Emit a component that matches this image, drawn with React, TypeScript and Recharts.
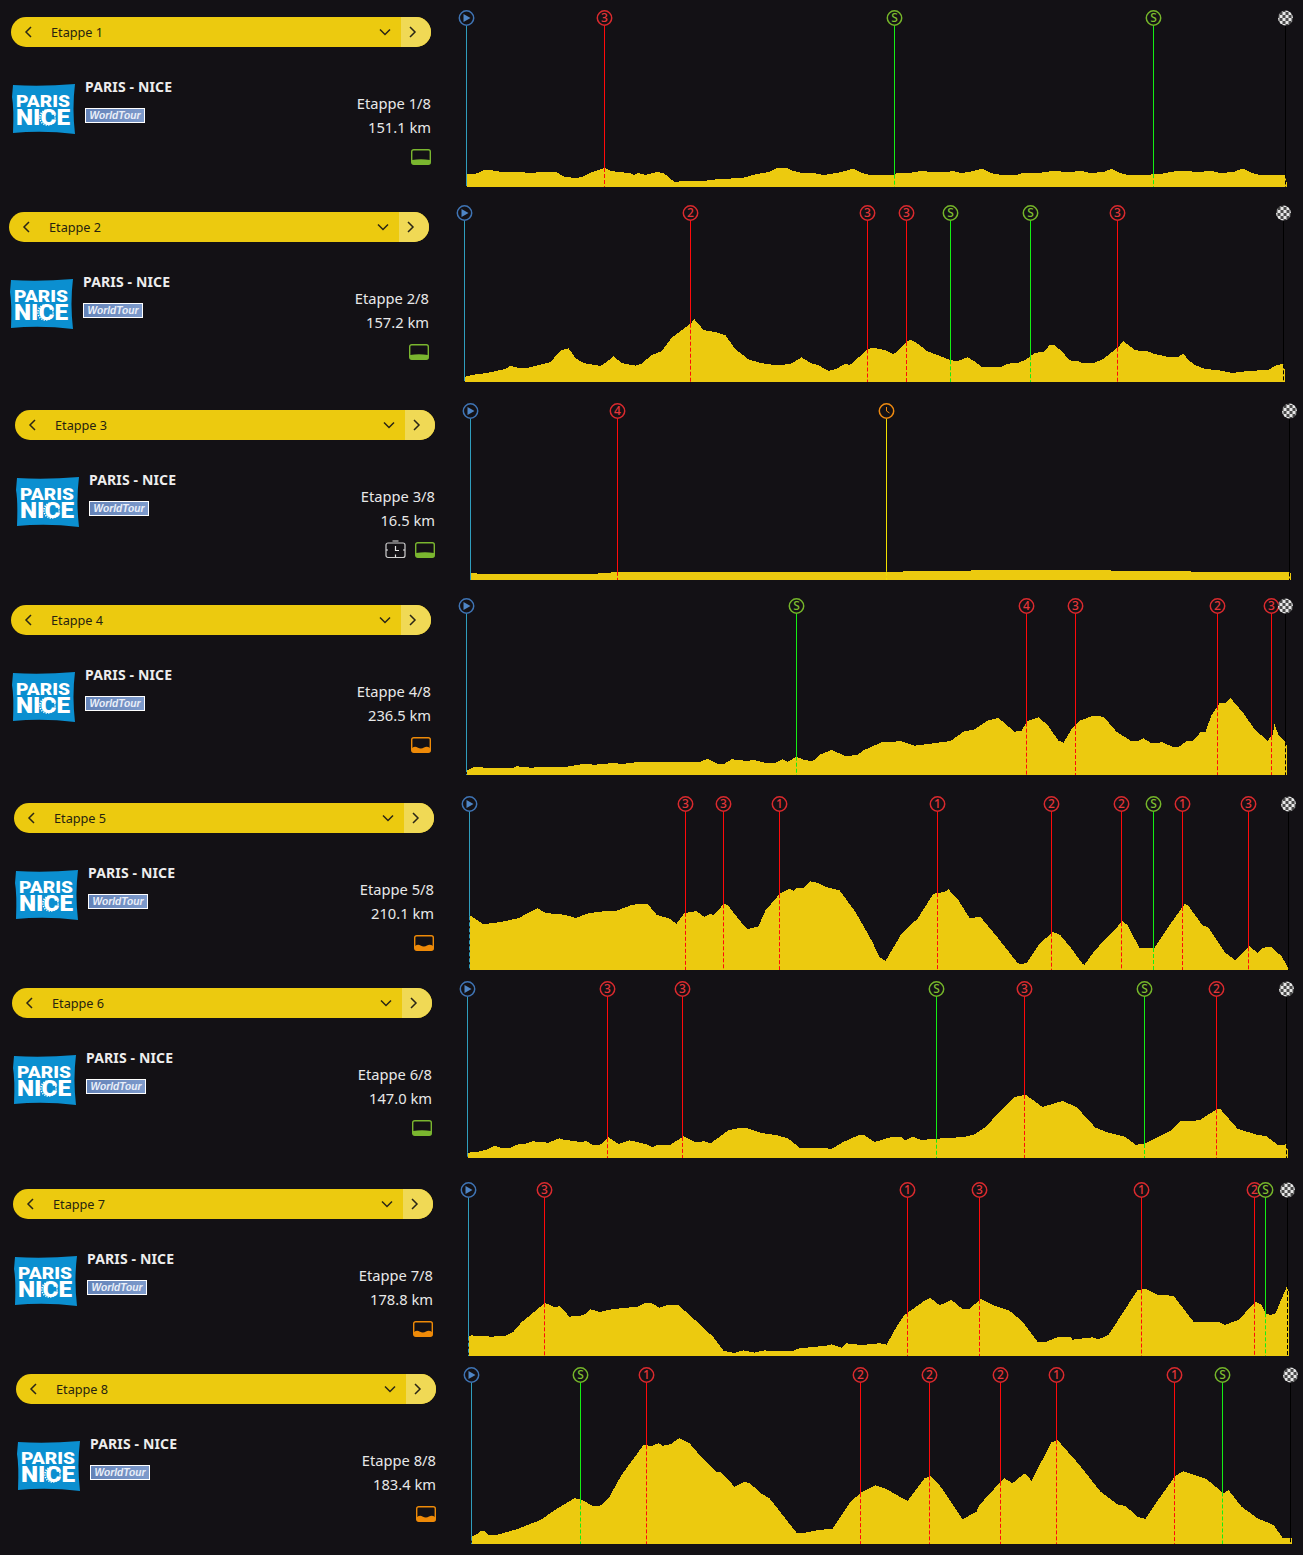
import React from 'react';
import { ComposedChart, Area, XAxis, YAxis, ReferenceLine, ReferenceDot } from 'recharts';

const stageNames = ['Etappe 1','Etappe 2','Etappe 3','Etappe 4','Etappe 5','Etappe 6','Etappe 7','Etappe 8'];
const stageCounts = ['Etappe 1/8','Etappe 2/8','Etappe 3/8','Etappe 4/8','Etappe 5/8','Etappe 6/8','Etappe 7/8','Etappe 8/8'];
const stageDistances = ['151.1 km','157.2 km','16.5 km','236.5 km','210.1 km','147.0 km','178.8 km','183.4 km'];
const stageTerrain = ['flat','flat','flat','hilly','hilly','flat','hilly','hilly'];

const profile1 = [[0,5],[1,13],[10,13.5],[18,17],[26,16.5],[39,14.5],[50,15],[66,14],[72,15],[90,15],[98,10],[110,9],[115,10],[123,14],[138,19],[144,16],[158,14.5],[164,14],[167,12],[172,14],[179,12],[190,15],[197,14],[202,10],[208,5],[217,6],[236,6],[252,8],[263,8],[268,9.5],[276,9],[290,13],[303,15],[311,19.5],[320,19],[327,16],[335,14],[349,13.5],[357,12],[370,14],[379,16],[387,18.5],[395,14],[403,12],[427,11.5],[430,14],[443,14],[454,16],[467,15],[481,15],[486,16],[494,14],[502,15],[516,18.5],[524,14],[535,12],[548,11.5],[556,14],[572,14],[586,16],[602,15],[615,16],[624,14],[637,15],[645,18],[653,14],[661,12],[678,11.5],[688,13],[694,13],[710,16],[718,16.5],[729,15],[745,16],[753,14],[767,15],[776,18.5],[785,14],[793,12],[810,11.5],[819,12.5],[820,5]];
const profile2 = [[0,5],[9,7.3],[22,9],[41,13],[46,16.3],[54,14],[64,14.3],[76,17.3],[86,20],[96,31.3],[104,33.7],[111,24],[119,19],[136,16],[142,20],[149,25.7],[157,19],[171,16.3],[177,18.3],[187,26.7],[197,30.7],[207,44],[226,58.3],[230,62.7],[239,52],[252,49.7],[261,46.7],[271,32.7],[284,22.7],[296,19],[312,16.7],[326,18],[337,24.7],[346,19],[354,16.7],[364,11],[372,13.3],[381,18.3],[385,16.7],[403,32.5],[408,34.5],[421,31.7],[429,27.7],[434,31.7],[443,41],[446,42.3],[451,40],[463,30.7],[478,25],[486,21.7],[493,21],[503,24.7],[511,20],[518,14.7],[536,14.7],[543,18.3],[553,19],[561,22.3],[571,29.3],[579,30],[585,36.7],[590,36.7],[598,30],[605,21.7],[614,20.7],[618,18.7],[629,18.7],[639,23.3],[653,34.3],[659,40.7],[671,31.7],[683,30.7],[689,28.3],[704,25],[713,24.7],[719,28.3],[724,21.7],[731,16.7],[741,12.7],[751,12.3],[768,9],[781,10.7],[796,11.7],[804,12.3],[813,17.3],[819,17.7],[820,13]];
const profile3 = [[0,3],[1,7],[6,7],[7,6],[125,6],[128,6.7],[138,7.2],[150,8.5],[420,8.3],[500,9.5],[560,10],[600,10.5],[660,9],[720,8.5],[820,7.5]];
const profile4 = [[0,7],[1,5],[7,8],[15,8],[18,7],[47,7],[50,8.7],[64,7.3],[82,8.3],[98,8],[109,9.7],[117,11],[128,10.3],[144,11.7],[158,11.3],[171,13],[233,13],[241,16],[251,11.3],[258,11.3],[265,15.7],[273,15],[279,14],[287,15],[300,12],[309,12.3],[316,15.7],[321,13],[330,18.3],[338,15],[346,13.7],[354,20.7],[365,25],[379,19],[391,20],[397,24.7],[416,33],[435,33.7],[448,29.3],[467,31.7],[484,34],[497,43.3],[508,45.7],[521,54.3],[532,57],[548,43.3],[555,44.3],[561,54],[572,57.7],[581,50],[592,34.3],[597,32.3],[605,45.7],[613,54.3],[626,59],[637,58.3],[650,43.3],[664,34.3],[672,34.3],[677,36.7],[685,31.7],[696,32.7],[707,27.7],[712,28],[720,33.7],[726,33.7],[734,42.7],[739,43.3],[745,60],[753,71.7],[759,72.3],[764,77],[777,61.7],[788,45.7],[801,34.3],[806,40],[808,50.7],[812,40],[819,32.7],[820,30]];
const profile5 = [[0,53.7],[2,53.7],[14,45.7],[31,48],[50,52],[58,57],[68,61.7],[76,57],[95,55.3],[106,52],[120,57],[136,59],[146,59],[163,65.3],[178,66.3],[187,55.3],[200,51.3],[207,46.3],[215,57],[227,59],[235,53],[241,56.3],[244,54.7],[254,65.7],[258,65.3],[270,49.7],[278,40.7],[289,43.7],[296,59.7],[311,77],[320,81.3],[324,79],[327,81.7],[334,82],[341,88.7],[349,87],[356,83],[370,79.7],[386,58],[402,29.7],[410,13],[416,9],[432,36.3],[448,51.3],[464,76.3],[475,78],[479,80.7],[489,69.7],[500,52],[511,53],[529,31.3],[548,7],[551,6],[557,7],[569,24.7],[583,38.3],[591,34.7],[602,21.3],[613,6.3],[615,5.3],[626,20.3],[653,48.7],[658,44.7],[670,22],[685,22],[701,46.3],[715,65.7],[718,65.3],[733,44.7],[739,42.3],[755,18],[766,9.7],[780,23.7],[788,17],[793,22.3],[802,23],[812,13.7],[820,0]];
const profile6 = [[0,5.3],[9,6],[19,8.3],[27,12.3],[35,9.7],[42,9.7],[49,13.3],[60,14.7],[65,16.7],[81,15.3],[92,19.7],[97,17.7],[108,17.3],[111,16],[119,16.7],[126,12.7],[132,12.7],[141,20.7],[151,14],[162,17.7],[178,14],[185,10.7],[189,12.7],[202,12.7],[216,21.7],[227,16],[237,16.7],[243,14.7],[261,27.7],[270,29.7],[280,29.7],[294,25],[310,22.7],[321,19.3],[332,10.3],[359,9.7],[364,9],[375,15.7],[391,22.7],[397,22.7],[407,16],[423,20.7],[434,20.7],[438,17.7],[445,21.3],[454,18],[469,19.3],[496,21],[507,23.7],[517,30.3],[547,61],[558,63.3],[575,51],[595,57],[609,51],[628,30.3],[639,26],[658,21],[668,13.3],[677,14],[690,21],[703,27],[713,36.7],[725,37],[733,38.3],[749,48.7],[753,48.7],[770,29.3],[789,23.3],[799,21.7],[811,12.7],[819,13.7],[820,9]];
const profile7 = [[0,19.3],[3,21],[5,20],[18,20],[21,19.3],[37,20],[45,24.3],[53,33.7],[76,52.7],[80,52],[86,48.7],[91,50],[101,39.3],[115,40.7],[122,46.7],[131,44],[145,47],[169,49.3],[177,53],[183,52.7],[191,48.3],[199,51],[210,50.7],[223,39.3],[245,18.7],[255,5.3],[266,3],[275,5.7],[286,3.3],[296,5.7],[304,4.7],[325,5.3],[331,7.7],[358,10.3],[363,11.7],[373,8.3],[378,12.7],[393,11],[411,12.7],[418,11.3],[429,31],[436,41],[457,56],[462,58],[471,50.7],[483,56],[494,47],[501,47],[512,57],[524,51],[541,45.3],[554,34.3],[569,14.3],[578,14.3],[589,18.7],[602,19],[604,16.3],[624,18.7],[630,16.7],[640,21],[669,66],[677,67],[689,61],[705,60.3],[725,34.3],[750,34],[756,31],[770,36],[787,54.3],[793,51],[797,42.7],[802,41],[807,42.7],[819,71],[820,65]];
const profile8 = [[0,7.3],[4,9],[9,12.7],[13,12.7],[17,8.7],[26,9.3],[45,14.7],[69,24],[86,35.7],[103,45.7],[110,44.3],[121,38.3],[128,37.7],[137,45.7],[150,69],[172,99],[180,98],[187,100.7],[191,98.3],[199,99.7],[208,106],[218,100.7],[231,85.7],[245,71.7],[249,72.3],[263,57.3],[272,61.7],[278,61.3],[288,51.7],[298,45.7],[325,11.3],[334,11.3],[347,14],[361,15.3],[379,42.3],[390,51.7],[404,58.7],[414,55.3],[436,43],[453,65.7],[459,68],[468,59],[491,24.7],[505,32.3],[508,39],[530,63.3],[533,65.7],[541,60.7],[552,70],[554,70],[560,63.3],[580,101.7],[586,104],[608,79],[629,52.3],[646,39.7],[654,38],[666,27.3],[674,25],[683,39],[704,68.3],[712,72.7],[735,65],[752,50.7],[757,54],[770,37.3],[786,25.7],[802,19],[811,6.3],[820,5.7]];
const profiles = [profile1,profile2,profile3,profile4,profile5,profile6,profile7,profile8];

// course positions and labels of the climbs and sprints
const pins1: [number,string][] = [[0,'start'],[138,'3'],[428,'S'],[687,'S'],[819,'end']];
const pins2: [number,string][] = [[0,'start'],[226,'2'],[403,'3'],[442,'3'],[486,'S'],[566,'S'],[653,'3'],[819,'end']];
const pins3: [number,string][] = [[0,'start'],[147,'4'],[416,'clock'],[819,'end']];
const pins4: [number,string][] = [[0,'start'],[330,'S'],[560,'4'],[609,'3'],[751,'2'],[805,'3'],[819,'end']];
const pins5: [number,string][] = [[0,'start'],[216,'3'],[254,'3'],[310,'1'],[468,'1'],[582,'2'],[652,'2'],[684,'S'],[713,'1'],[779,'3'],[819,'end']];
const pins6: [number,string][] = [[0,'start'],[140,'3'],[215,'3'],[469,'S'],[557,'3'],[677,'S'],[749,'2'],[819,'end']];
const pins7: [number,string][] = [[0,'start'],[76,'3'],[439,'1'],[511,'3'],[673,'1'],[786,'2'],[797,'S'],[819,'end']];
const pins8: [number,string][] = [[0,'start'],[109,'S'],[175,'1'],[389,'2'],[458,'2'],[529,'2'],[585,'1'],[703,'1'],[751,'S'],[819,'end']];
const pinLists = [pins1,pins2,pins3,pins4,pins5,pins6,pins7,pins8];

const leftShift = [0,-2,4,0,3,1,2,5];
const topShift = [0,195,393,588,786,971,1172,1357];
const baseLine = [187,187,187,187,184,187,184,187];

const BG = '#131115';
const YELLOW = '#ecca0f';
const FONT = '"Noto Sans", sans-serif';

function altAt(profile: number[][], pos: number) {
  for (let i = 1; i < profile.length; i++) {
    if (pos <= profile[i][0]) {
      const [x0, y0] = profile[i - 1];
      const [x1, y1] = profile[i];
      return y0 + ((y1 - y0) * (pos - x0)) / (x1 - x0);
    }
  }
  return profile[profile.length - 1][1];
}

function pinColors(label: string) {
  if (label === 'start') return { ring: '#3f74b4', line: '#2f9dbd' };
  if (label === 'end') return { ring: '#999', line: '#000000' };
  if (label === 'S') return { ring: '#75b52a', line: '#14ee14' };
  if (label === 'clock') return { ring: '#ee8a10', line: '#f2e000' };
  return { ring: '#d92a2e', line: '#ff0a0a' };
}

function PinHead(props: any) {
  const { cx, cy, label, uid } = props;
  const c = pinColors(label);
  if (label === 'end') {
    return (
      <g>
        <defs>
          <pattern id={uid} width={6} height={6} patternUnits="userSpaceOnUse" x={cx} y={cy}>
            <rect width={6} height={6} fill="#e6e6e6" />
            <rect width={3} height={3} fill="#4a4a4a" />
            <rect x={3} y={3} width={3} height={3} fill="#4a4a4a" />
          </pattern>
        </defs>
        <circle cx={cx} cy={cy} r={7.5} fill={`url(#${uid})`} />
      </g>
    );
  }
  return (
    <g>
      <circle cx={cx} cy={cy} r={7.2} fill={BG} stroke={c.ring} strokeWidth={1.5} />
      {label === 'start' && <path d={`M${cx - 3} ${cy - 4}L${cx + 4} ${cy}L${cx - 3} ${cy + 4}Z`} fill="#4f86c6" />}
      {label === 'clock' && <path d={`M${cx} ${cy - 4}V${cy}L${cx + 3} ${cy + 2}`} fill="none" stroke={c.ring} strokeWidth={1} />}
      {label !== 'start' && label !== 'clock' && (
        <text x={cx} y={cy + 4.2} textAnchor="middle" fontFamily={FONT} fontSize={12} fontWeight={500} fill={label === 'S' ? '#7fbe30' : '#e3363a'}>{label}</text>
      )}
    </g>
  );
}

function Profile({ index }: { index: number }) {
  const base = baseLine[index];
  const top = 10;
  const profile = profiles[index];
  const data = profile.map(([pos, alt]) => ({ pos, alt }));
  const maxY = base - top;
  const headY = base - 18;
  const lineTop = base - 26;
  return (
    <div style={{ position: 'absolute', left: 456 + leftShift[index], top: topShift[index] }}>
      <ComposedChart width={840} height={base + 1} data={data} margin={{ top, right: 9.5, bottom: 1, left: 10.5 }}>
        <XAxis dataKey="pos" type="number" domain={[0, 820]} hide />
        <YAxis type="number" domain={[0, maxY]} hide />
        <Area dataKey="alt" type="linear" fill={YELLOW} fillOpacity={1} stroke="none" shapeRendering="crispEdges" isAnimationActive={false} dot={false} activeDot={false} />
        {pinLists[index].map(([pos, label], i) => {
          const c = pinColors(label);
          const ground = Math.min(altAt(profile, pos), lineTop);
          return (
            <React.Fragment key={i}>
              <ReferenceLine segment={[{ x: pos, y: lineTop }, { x: pos, y: ground }]} stroke={c.line} strokeWidth={1} ifOverflow="visible" />
              <ReferenceLine segment={[{ x: pos, y: ground }, { x: pos, y: 0 }]} stroke={c.line} strokeWidth={1} strokeDasharray="4 2" ifOverflow="visible" />
            </React.Fragment>
          );
        })}
        {pinLists[index].map(([pos, label], i) => (
          <ReferenceDot key={'d' + i} x={pos} y={headY} ifOverflow="visible" shape={(p: any) => <PinHead {...p} label={label} uid={`chk${index}`} />} />
        ))}
      </ComposedChart>
    </div>
  );
}

function Chevron({ x, y, dir }: { x: number; y: number; dir: 'l' | 'r' | 'd' }) {
  const d = dir === 'l' ? `M${x + 3} ${y - 5}L${x - 2} ${y}L${x + 3} ${y + 5}` : dir === 'r' ? `M${x - 3} ${y - 5}L${x + 2} ${y}L${x - 3} ${y + 5}` : `M${x - 5} ${y - 2}L${x} ${y + 3}L${x + 5} ${y - 2}`;
  return <path d={d} fill="none" stroke="#2a2616" strokeWidth={1.5} />;
}

function Logo() {
  return (
    <svg width={66} height={52} style={{ position: 'absolute', left: 11, top: 83 }}>
      <path d="M2 2 Q30 4 64 1 Q61 25 64 51 Q32 47 2 50 Q3 25 1 14Z" fill="#0b8fd0" />
      <text x={5} y={23.5} fontFamily="Roboto, sans-serif" fontWeight={900} fontSize={16.5} fill="#fff" textLength={54} lengthAdjust="spacingAndGlyphs">PARIS</text>
      <text x={5} y={42} fontFamily="Roboto, sans-serif" fontWeight={900} fontSize={21.5} fill="#fff" textLength={54} lengthAdjust="spacingAndGlyphs">NICE</text>
      <circle cx={36.5} cy={34.5} r={7.6} fill="none" stroke="#fff" strokeWidth={1.6} strokeDasharray="1.2 1.3" />
    </svg>
  );
}

function TerrainIcon({ kind, left }: { kind: string; left: number }) {
  const col = kind === 'flat' ? '#7ab62f' : '#ee8a08';
  const fillPath = kind === 'flat'
    ? 'M1 11 Q10 9.5 19 11 V15 H1Z'
    : 'M1 11 Q4 9 6.5 10.5 Q10 12.5 13 10.5 Q16 9 19 11 V15 H1Z';
  return (
    <svg width={20} height={16} style={{ position: 'absolute', left, top: 149 }}>
      <rect x={0.7} y={0.7} width={18.6} height={14.6} rx={2} fill={BG} stroke={col} strokeWidth={1.4} />
      <path d={fillPath} fill={col} />
    </svg>
  );
}

function TimerIcon() {
  return (
    <svg width={21} height={19} style={{ position: 'absolute', left: 380.5, top: 146.5 }}>
      <rect x={1} y={3} width={19} height={14.5} rx={2} fill="none" stroke="#cfcfcf" strokeWidth={1.2} />
      <path d="M7.5 1H13.5M10.5 6V10.5H14M1 10H3M18 10H20M10.5 14.5V17" fill="none" stroke="#e5e5e5" strokeWidth={1.2} />
    </svg>
  );
}

function Panel({ index }: { index: number }) {
  return (
    <div style={{ position: 'absolute', left: leftShift[index], top: topShift[index], width: 440, height: 180, fontFamily: FONT }}>
      <div style={{ position: 'absolute', left: 11, top: 17, width: 420, height: 30, borderRadius: 15, overflow: 'hidden', background: YELLOW }}>
        <div style={{ position: 'absolute', left: 390, top: 0, width: 30, height: 30, background: '#f0d955' }} />
        <div style={{ position: 'absolute', left: 40, top: 0, lineHeight: '30px', fontSize: 12.7, color: '#26230f', whiteSpace: 'nowrap' }}>{stageNames[index]}</div>
      </div>
      <svg width={440} height={60} style={{ position: 'absolute', left: 0, top: 0 }}>
        <Chevron x={28} y={32} dir="l" />
        <Chevron x={385} y={31.5} dir="d" />
        <Chevron x={413} y={32} dir="r" />
      </svg>
      <Logo />
      <div style={{ position: 'absolute', left: 85, top: 77, lineHeight: '20px', fontSize: 14, fontWeight: 700, letterSpacing: 0.15, color: '#ededed', whiteSpace: 'nowrap' }}>PARIS - NICE</div>
      <div style={{ position: 'absolute', left: 85, top: 108, width: 58, height: 13, border: '1px solid #fff', background: 'linear-gradient(90deg,#6483b8,#7d9acb)', color: '#e9eef8', fontFamily: '"Liberation Sans", sans-serif', fontStyle: 'italic', fontWeight: 700, fontSize: 10.2, lineHeight: '13px', textAlign: 'center', whiteSpace: 'nowrap', overflow: 'hidden' }}>WorldTour</div>
      <div style={{ position: 'absolute', right: 9, top: 93, lineHeight: '20px', fontSize: 14.7, color: '#e8e8e8', whiteSpace: 'nowrap' }}>{stageCounts[index]}</div>
      <div style={{ position: 'absolute', right: 9, top: 117, lineHeight: '20px', fontSize: 14.7, color: '#e8e8e8', whiteSpace: 'nowrap' }}>{stageDistances[index]}</div>
      <TerrainIcon kind={stageTerrain[index]} left={411} />
      {index === 2 && <TimerIcon />}
    </div>
  );
}

export default function App() {
  return (
    <div style={{ position: 'absolute', left: 0, top: 0, width: 1303, height: 1555, background: BG, overflow: 'hidden' }}>
      {stageNames.map((_, i) => (
        <React.Fragment key={i}>
          <Panel index={i} />
          <Profile index={i} />
        </React.Fragment>
      ))}
    </div>
  );
}
